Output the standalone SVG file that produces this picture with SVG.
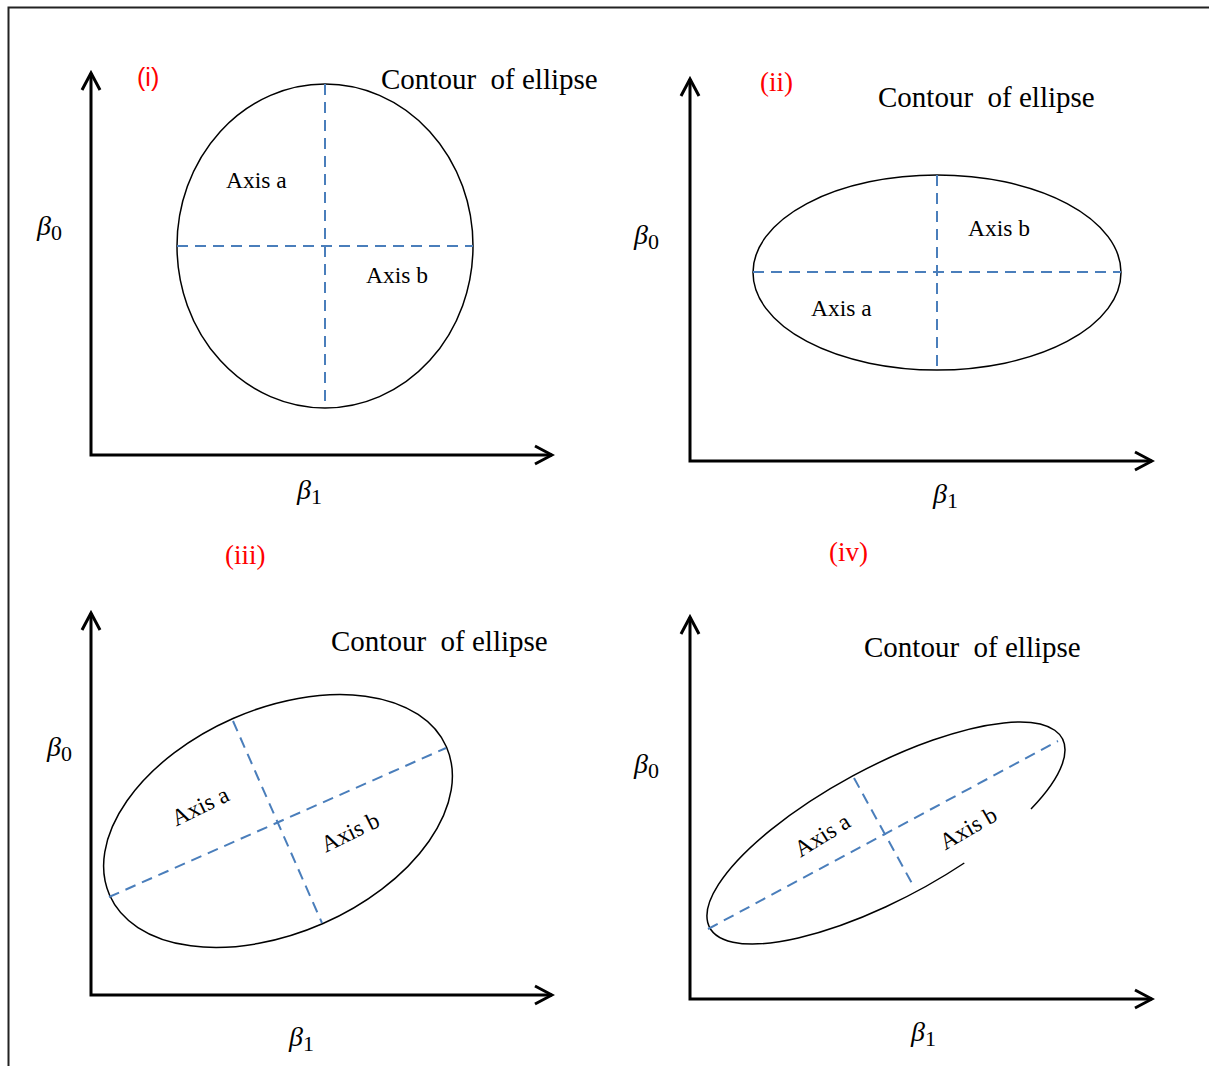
<svg xmlns="http://www.w3.org/2000/svg" width="1209" height="1066" viewBox="0 0 1209 1066">
<style>
.frame{fill:none;stroke:#222;stroke-width:2}
.axis{fill:none;stroke:#000;stroke-width:3;marker-start:url(#arr);marker-end:url(#arr)}
.ell{fill:none;stroke:#000;stroke-width:1.5}
.dash{fill:none;stroke:#4a7ebb;stroke-width:2;stroke-dasharray:11 7}
.title{font-family:"Liberation Serif",serif;font-size:29px;fill:#000}
.lab{font-family:"Liberation Serif",serif;font-size:23.5px;fill:#000}
.red{font-family:"Liberation Serif",serif;font-size:27px;fill:#ff0000}
.reds{font-family:"Liberation Sans",sans-serif;font-size:25px;fill:#ff0000}
.beta{font-family:"Liberation Serif",serif;font-size:28px;font-style:italic;fill:#000}
.sub{font-family:"Liberation Serif",serif;font-size:22px;font-style:normal}
</style>
<defs>
<marker id="arr" markerUnits="userSpaceOnUse" viewBox="0 0 22 22" markerWidth="22" markerHeight="22" refX="19" refY="11" orient="auto-start-reverse">
<path d="M2,2 L19,11 L2,20" fill="none" stroke="#000" stroke-width="3"/>
</marker>
</defs>
<rect width="1209" height="1066" fill="#fff"/>
<path class="frame" d="M8.5,1066 L8.5,7.5 L1209,7.5"/>

<g id="panel-i">
<path class="axis" d="M91,73 L91,455 L552,455"/>
<ellipse class="ell" cx="325" cy="246" rx="148" ry="162"/>
<line class="dash" x1="177" y1="246" x2="473" y2="246"/>
<line class="dash" x1="325" y1="84" x2="325" y2="408"/>
<text class="reds" x="137" y="86">(i)</text>
<text class="title" x="381" y="89" xml:space="preserve">Contour  of ellipse</text>
<text class="lab" x="226" y="188">Axis a</text>
<text class="lab" x="366" y="283">Axis b</text>
<text class="beta" x="37" y="235">β<tspan class="sub" dy="5">0</tspan></text>
<text class="beta" x="297" y="499">β<tspan class="sub" dy="5">1</tspan></text>
</g>

<g id="panel-ii">
<path class="axis" d="M690,79 L690,461 L1152,461"/>
<ellipse class="ell" cx="937" cy="272.5" rx="184" ry="97.5"/>
<line class="dash" x1="753" y1="272" x2="1121" y2="272"/>
<line class="dash" x1="937" y1="175" x2="937" y2="370"/>
<text class="red" x="760" y="91">(ii)</text>
<text class="title" x="878" y="107" xml:space="preserve">Contour  of ellipse</text>
<text class="lab" x="968" y="236">Axis b</text>
<text class="lab" x="811" y="316">Axis a</text>
<text class="beta" x="634" y="244">β<tspan class="sub" dy="5">0</tspan></text>
<text class="beta" x="933" y="503">β<tspan class="sub" dy="5">1</tspan></text>
</g>

<g id="panel-iii">
<path class="axis" d="M91,613 L91,995 L552,995"/>
<ellipse class="ell" cx="278" cy="821" rx="184" ry="112" transform="rotate(-23.7 278 821)"/>
<line class="dash" x1="109" y1="897" x2="446" y2="748"/>
<line class="dash" x1="233" y1="721" x2="322" y2="923"/>
<text class="red" x="225" y="564">(iii)</text>
<text class="title" x="331" y="651" xml:space="preserve">Contour  of ellipse</text>
<text class="lab" text-anchor="middle" transform="translate(200,806) rotate(-26)" y="8">Axis a</text>
<text class="lab" text-anchor="middle" transform="translate(350,832) rotate(-26)" y="8">Axis b</text>
<text class="beta" x="47" y="756">β<tspan class="sub" dy="5">0</tspan></text>
<text class="beta" x="289" y="1046">β<tspan class="sub" dy="5">1</tspan></text>
</g>

<g id="panel-iv">
<path class="axis" d="M690,617 L690,999 L1152,999"/>
<path class="ell" d="M964.3,863 A200,66 -28.2 1 1 1031,809"/>
<line class="dash" x1="708" y1="929" x2="1058" y2="741"/>
<line class="dash" x1="854" y1="778" x2="914" y2="887"/>
<text class="red" x="829" y="561">(iv)</text>
<text class="title" x="864" y="657" xml:space="preserve">Contour  of ellipse</text>
<text class="lab" text-anchor="middle" transform="translate(822,835) rotate(-32)" y="8">Axis a</text>
<text class="lab" text-anchor="middle" transform="translate(968,828) rotate(-30)" y="8">Axis b</text>
<text class="beta" x="634" y="773">β<tspan class="sub" dy="5">0</tspan></text>
<text class="beta" x="911" y="1041">β<tspan class="sub" dy="5">1</tspan></text>
</g>
</svg>
